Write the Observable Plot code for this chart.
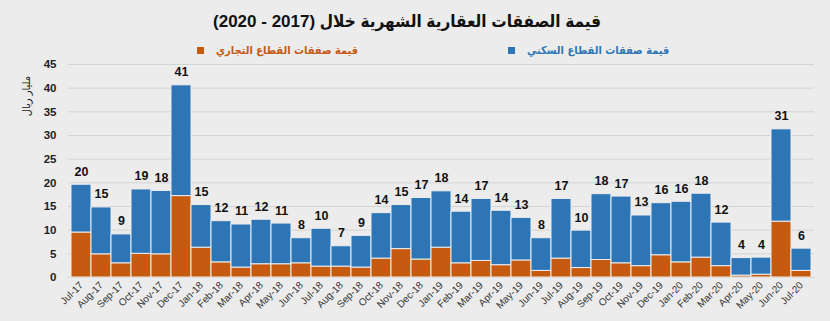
<!DOCTYPE html>
<html><head><meta charset="utf-8">
<script src="https://cdn.jsdelivr.net/npm/d3@7"></script>
<script src="https://cdn.jsdelivr.net/npm/@observablehq/plot@0.6"></script>
<style>
body{margin:0;background:#ececec}
#wrap{position:relative;width:830px;height:321px;background:#ececec;overflow:hidden;font-family:"Liberation Sans","DejaVu Sans",sans-serif}
#title{position:absolute;left:0;width:814px;top:11px;text-align:center;font-weight:bold;font-size:17px;color:#111;direction:rtl;font-family:"Liberation Sans","DejaVu Sans Condensed","DejaVu Sans",sans-serif}
.leg{position:absolute;top:44px;font-size:11px;font-weight:bold;white-space:nowrap;display:flex;align-items:center;gap:12px;font-family:"DejaVu Sans Condensed","DejaVu Sans",sans-serif}
.sw{width:7px;height:7px;display:inline-block}
#ylab{position:absolute;left:26px;top:96px;transform:translate(-50%,-50%) rotate(-90deg);font-size:11px;color:#222;white-space:nowrap;font-family:"DejaVu Sans Condensed","DejaVu Sans",sans-serif}
#chart{position:absolute;left:0;top:0}
</style></head><body>
<div id="wrap">
  <div id="title">قيمة الصفقات العقارية الشهرية خلال (2017 - 2020)</div>
  <div class="leg" id="legC" style="left:197px;color:#c55a11"><span class="sw" style="background:#c55a11"></span><span>قيمة صفقات القطاع التجاري</span></div>
  <div class="leg" id="legR" style="left:508px;color:#2e75b6"><span class="sw" style="background:#2e75b6"></span><span>قيمة صفقات القطاع السكني</span></div>
  <div id="ylab">مليار ريال</div>
  <div id="chart"></div>
</div>
<script>
const months = ["Jul-17","Aug-17","Sep-17","Oct-17","Nov-17","Dec-17","Jan-18","Feb-18","Mar-18","Apr-18","May-18","Jun-18","Jul-18","Aug-18","Sep-18","Oct-18","Nov-18","Dec-18","Jan-19","Feb-19","Mar-19","Apr-19","May-19","Jun-19","Jul-19","Aug-19","Sep-19","Oct-19","Nov-19","Dec-19","Jan-20","Feb-20","Mar-20","Apr-20","May-20","Jun-20","Jul-20"];
const commercial = [9.5,4.9,3.0,5.0,4.9,17.2,6.3,3.2,2.1,2.8,2.8,3.0,2.3,2.3,2.1,4.0,6.0,3.8,6.3,3.0,3.5,2.6,3.6,1.4,4.0,2.0,3.7,3.0,2.4,4.7,3.2,4.2,2.4,0.4,0.6,11.8,1.4];
const residential = [10.1,9.9,6.1,13.6,13.4,23.4,9.0,8.7,9.1,9.4,8.6,5.3,8.0,4.3,6.7,9.6,9.3,13.0,11.9,10.9,13.1,11.5,9.0,6.9,12.6,7.9,13.9,14.1,10.7,11.0,12.8,13.5,9.2,3.7,3.6,19.5,4.7];
const yTicks = [0,5,10,15,20,25,30,35,40,45];

const BLUE = "#2e75b6", ORANGE = "#c55a11";
const rows = [];
months.forEach((m,i)=>{
  rows.push({month:m, series:"commercial", value:commercial[i]});
  rows.push({month:m, series:"residential", value:residential[i]});
});
const totals = months.map((m,i)=>({month:m, total:commercial[i]+residential[i], label:String(Math.round(commercial[i]+residential[i]))}));

const chart = Plot.plot({
  width:830, height:321,
  marginTop:64, marginBottom:44, marginLeft:68, marginRight:16,
  style:{background:"transparent", fontFamily:"'Liberation Sans','DejaVu Sans',sans-serif", overflow:"visible"},
  x:{domain:months, padding:0, label:null},
  y:{domain:[0,45], label:null},
  color:{domain:["commercial","residential"], range:[ORANGE, BLUE]},
  marks:[
    Plot.gridY(yTicks, {stroke:"#d3d3d3", strokeOpacity:1, strokeWidth:1}),
    Plot.barY(rows, {x:"month", y:"value", fill:"series", stroke:"#eeeeee", strokeWidth:1}),
    Plot.text(totals, {x:"month", y:"total", text:"label", dy:-13, fontWeight:"bold", fontSize:12.5, fill:"#111"}),
    Plot.axisY({ticks:yTicks, tickSize:0, tickPadding:12, fontWeight:"bold", fontSize:11.5, label:null, fill:"#222"}),
    Plot.axisX({tickSize:0, tickRotate:-45, tickPadding:6, fontSize:10, label:null, fill:"#333"})
  ]
});
document.getElementById("chart").appendChild(chart);
</script>
</body></html>
